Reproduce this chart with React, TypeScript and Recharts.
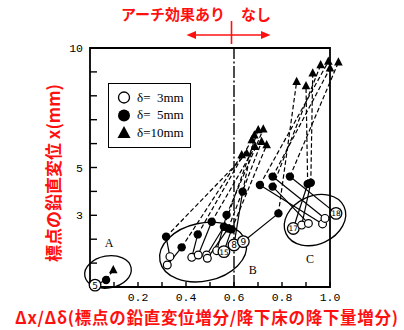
import {
  ScatterChart,
  Scatter,
  XAxis,
  YAxis,
  ReferenceLine,
  ReferenceArea,
  ReferenceDot,
  Legend,
} from 'recharts';

type Pt = { x: number; y: number; tag?: string };

// one entry per gauge point; index i links open -> filled -> triangle
const open3: Pt[] = [
  { x: 0.021, y: 0.08, tag: '5' },
  { x: 0.322, y: 0.92 },
  { x: 0.333, y: 1.27 },
  { x: 0.424, y: 1.24 },
  { x: 0.451, y: 1.34 },
  { x: 0.486, y: 1.34 },
  { x: 0.489, y: 1.2 },
  { x: 0.528, y: 1.52 },
  { x: 0.558, y: 1.48, tag: '15' },
  { x: 0.6, y: 1.76, tag: '8' },
  { x: 0.639, y: 1.9, tag: '9' },
  { x: 0.847, y: 2.45, tag: '17' },
  { x: 0.882, y: 2.59 },
  { x: 0.91, y: 2.66 },
  { x: 0.969, y: 2.64 },
  { x: 0.979, y: 2.87 },
  { x: 1.025, y: 3.08, tag: '18' },
];

const filled5: Pt[] = [
  { x: 0.067, y: 0.29 },
  { x: 0.382, y: 1.66 },
  { x: 0.317, y: 2.1 },
  { x: 0.449, y: 2.2 },
  { x: 0.507, y: 2.73 },
  { x: 0.558, y: 2.52 },
  { x: 0.576, y: 2.45 },
  { x: 0.569, y: 3.01 },
  { x: 0.59, y: 2.41 },
  { x: 0.636, y: 3.99 },
  { x: 0.785, y: 3.08 },
  { x: 0.907, y: 4.31 },
  { x: 0.92, y: 4.36 },
  { x: 0.761, y: 4.2 },
  { x: 0.708, y: 4.27 },
  { x: 0.761, y: 4.62 },
  { x: 0.833, y: 4.62 },
];

const tri10: Pt[] = [
  { x: 0.097, y: 0.71 },
  { x: 0.632, y: 5.52 },
  { x: 0.653, y: 5.59 },
  { x: 0.674, y: 6.15 },
  { x: 0.688, y: 5.87 },
  { x: 0.701, y: 6.57 },
  { x: 0.715, y: 6.08 },
  { x: 0.722, y: 6.6 },
  { x: 0.736, y: 5.94 },
  { x: 0.685, y: 6.35 },
  { x: 0.861, y: 8.59 },
  { x: 0.9, y: 8.41 },
  { x: 0.928, y: 8.94 },
  { x: 0.961, y: 9.29 },
  { x: 0.993, y: 9.43 },
  { x: 1.0, y: 9.15 },
  { x: 1.035, y: 9.4 },
];

const groups = [
  { name: 'A', x: 0.075, y: 0.63, rx: 23.5, ry: 16, rot: -10, lx: 0.08, ly: 1.83 },
  { name: 'B', x: 0.471, y: 1.46, rx: 44, ry: 29, rot: -12, lx: 0.678, ly: 0.71 },
  { name: 'C', x: 0.9375, y: 2.8, rx: 32, ry: 24, rot: -25, lx: 0.917, ly: 1.16 },
];

const xTicks = [0, 0.1, 0.2, 0.3, 0.4, 0.5, 0.6, 0.7, 0.8, 0.9, 1.0];
const xLabeled = [0.2, 0.4, 0.6, 0.8, 1.0];
const yTicks = [0, 1, 2, 3, 4, 5, 6, 7, 8, 9, 10];
const yLabeled = [3, 5, 10];

const legendItems = [
  { kind: 'open', label: 'δ=  3mm' },
  { kind: 'filled', label: 'δ=  5mm' },
  { kind: 'tri', label: 'δ=10mm' },
];

const RED = '#ff1010';
const CJK = '"Noto Sans CJK JP", sans-serif';
const tickFont = { fontFamily: '"Liberation Mono", monospace', fontSize: 11.5, fill: '#000' };

function OpenMark(p: any) {
  const { cx, cy, payload } = p;
  if (payload.tag) {
    return (
      <g>
        <circle cx={cx} cy={cy} r={5.8} fill="#fff" stroke="#000" strokeWidth={1.3} />
        <text x={cx} y={cy + 0.5} textAnchor="middle" dominantBaseline="central" fontSize={payload.tag.length > 1 ? 7.5 : 9} fontFamily="DejaVu Sans">
          {payload.tag}
        </text>
      </g>
    );
  }
  return <circle cx={cx} cy={cy} r={3.9} fill="#fff" stroke="#000" strokeWidth={1.2} />;
}

function FilledMark(p: any) {
  return <circle cx={p.cx} cy={p.cy} r={4.2} fill="#000" />;
}

function TriMark(p: any) {
  const { cx, cy } = p;
  return <polygon points={`${cx},${cy - 5} ${cx - 4.3},${cy + 3.2} ${cx + 4.3},${cy + 3.2}`} fill="#000" />;
}

function LegendBox() {
  return (
    <div style={{ border: '1.6px solid #000', width: 83, height: 65, boxSizing: 'border-box', padding: '5px 0 0 8px', background: '#fff' }}>
      {legendItems.map((it) => (
        <div key={it.kind} style={{ display: 'flex', alignItems: 'center', height: 17.5 }}>
          <svg width={15} height={15}>
            {it.kind === 'open' && <circle cx={7} cy={7.5} r={5.5} fill="#fff" stroke="#000" strokeWidth={1.3} />}
            {it.kind === 'filled' && <circle cx={7} cy={7.5} r={6} fill="#000" />}
            {it.kind === 'tri' && <polygon points="7,1 0.5,13 13.5,13" fill="#000" />}
          </svg>
          <span style={{ marginLeft: 5, fontFamily: '"Liberation Serif", serif', fontSize: 13, whiteSpace: 'pre' }}>{it.label}</span>
        </div>
      ))}
    </div>
  );
}

export default function App() {
  return (
    <div style={{ position: 'absolute', left: 0, top: 0, width: 404, height: 330, background: '#fff' }}>
      <ScatterChart width={404} height={330} margin={{ top: 48, right: 62, bottom: 18, left: 60 }}>
        <XAxis
          type="number"
          dataKey="x"
          domain={[0, 1.05]}
          ticks={xTicks}
          tickFormatter={(v: number) => (xLabeled.some((t) => Math.abs(t - v) < 1e-6) ? v.toFixed(1) : '')}
          axisLine={false}
          tickSize={-5}
          tickMargin={11}
          tickLine={{ stroke: '#000', strokeWidth: 1.4 }}
          tick={tickFont}
          height={25}
        />
        <YAxis
          type="number"
          dataKey="y"
          domain={[0, 10]}
          ticks={yTicks}
          tickFormatter={(v: number) => (yLabeled.includes(v) ? String(v) : '')}
          axisLine={false}
          tickSize={-7}
          tickMargin={14}
          tickLine={{ stroke: '#000', strokeWidth: 1.4 }}
          tick={tickFont}
          width={30}
        />
        <ReferenceArea x1={0} x2={1} y1={0} y2={10} fill="none" fillOpacity={0} stroke="#000" strokeWidth={1.8} />
        <ReferenceLine x={0.6} stroke="#000" strokeWidth={1.4} strokeDasharray="12 2.5 2 2.5" />
        {groups.map((g) => (
          <ReferenceDot
            key={'e' + g.name}
            x={g.x}
            y={g.y}
            r={1}
            ifOverflow="visible"
            shape={(p: any) => (
              <ellipse cx={p.cx} cy={p.cy} rx={g.rx} ry={g.ry} transform={`rotate(${g.rot} ${p.cx} ${p.cy})`} fill="none" stroke="#000" strokeWidth={1.3} />
            )}
          />
        ))}
        {groups.map((g) => (
          <ReferenceDot
            key={'l' + g.name}
            x={g.lx}
            y={g.ly}
            r={1}
            ifOverflow="visible"
            shape={(p: any) => (
              <text x={p.cx} y={p.cy} textAnchor="middle" dominantBaseline="central" fontSize={12} fontFamily='"Liberation Serif", serif'>
                {g.name}
              </text>
            )}
          />
        ))}
        {open3.map((o, i) => (
          <ReferenceLine key={'s' + i} segment={[{ x: o.x, y: o.y }, { x: filled5[i].x, y: filled5[i].y }]} stroke="#000" strokeWidth={1.2} ifOverflow="visible" />
        ))}
        {filled5.map((f, i) => (
          <ReferenceLine key={'d' + i} segment={[{ x: f.x, y: f.y }, { x: tri10[i].x, y: tri10[i].y }]} stroke="#000" strokeWidth={1.2} strokeDasharray="4.5 2.5" ifOverflow="visible" />
        ))}
        <Scatter name="δ=10mm" data={tri10} shape={TriMark} isAnimationActive={false} />
        <Scatter name="δ=5mm" data={filled5} shape={FilledMark} isAnimationActive={false} />
        <Scatter name="δ=3mm" data={open3} shape={OpenMark} isAnimationActive={false} />
        <Legend
          layout="vertical"
          align="center"
          verticalAlign="middle"
          content={() => <LegendBox />}
          wrapperStyle={{ left: 108, top: 83, width: 83, height: 65 }}
        />
      </ScatterChart>
      <svg width={404} height={330} style={{ position: 'absolute', left: 0, top: 0, pointerEvents: 'none' }}>
        <text x={121} y={20} fontSize={15} fontWeight={700} fill={RED} fontFamily={CJK}>アーチ効果あり</text>
        <text x={241} y={20} fontSize={15} fontWeight={700} fill={RED} fontFamily={CJK}>なし</text>
        <line x1={194} y1={35} x2={263} y2={35} stroke={RED} strokeWidth={1.6} />
        <polygon points="186.5,35 196,31 196,39" fill={RED} />
        <polygon points="270.5,35 261,31 261,39" fill={RED} />
        <line x1={231.5} y1={21} x2={231.5} y2={44} stroke={RED} strokeWidth={1.6} />
        <text
          x={52}
          y={173}
          transform="rotate(-90 52 173)"
          textAnchor="middle"
          dominantBaseline="central"
          fontSize={17}
          fontWeight={700}
          fill={RED}
          fontFamily={CJK}
        >
          標点の鉛直変位 x(mm)
        </text>
        <text x={15} y={324} fontSize={16.5} fontWeight={700} fill={RED} fontFamily={CJK} textLength={383} lengthAdjust="spacing">
          Δx/Δδ(標点の鉛直変位増分/降下床の降下量増分)
        </text>
      </svg>
    </div>
  );
}
